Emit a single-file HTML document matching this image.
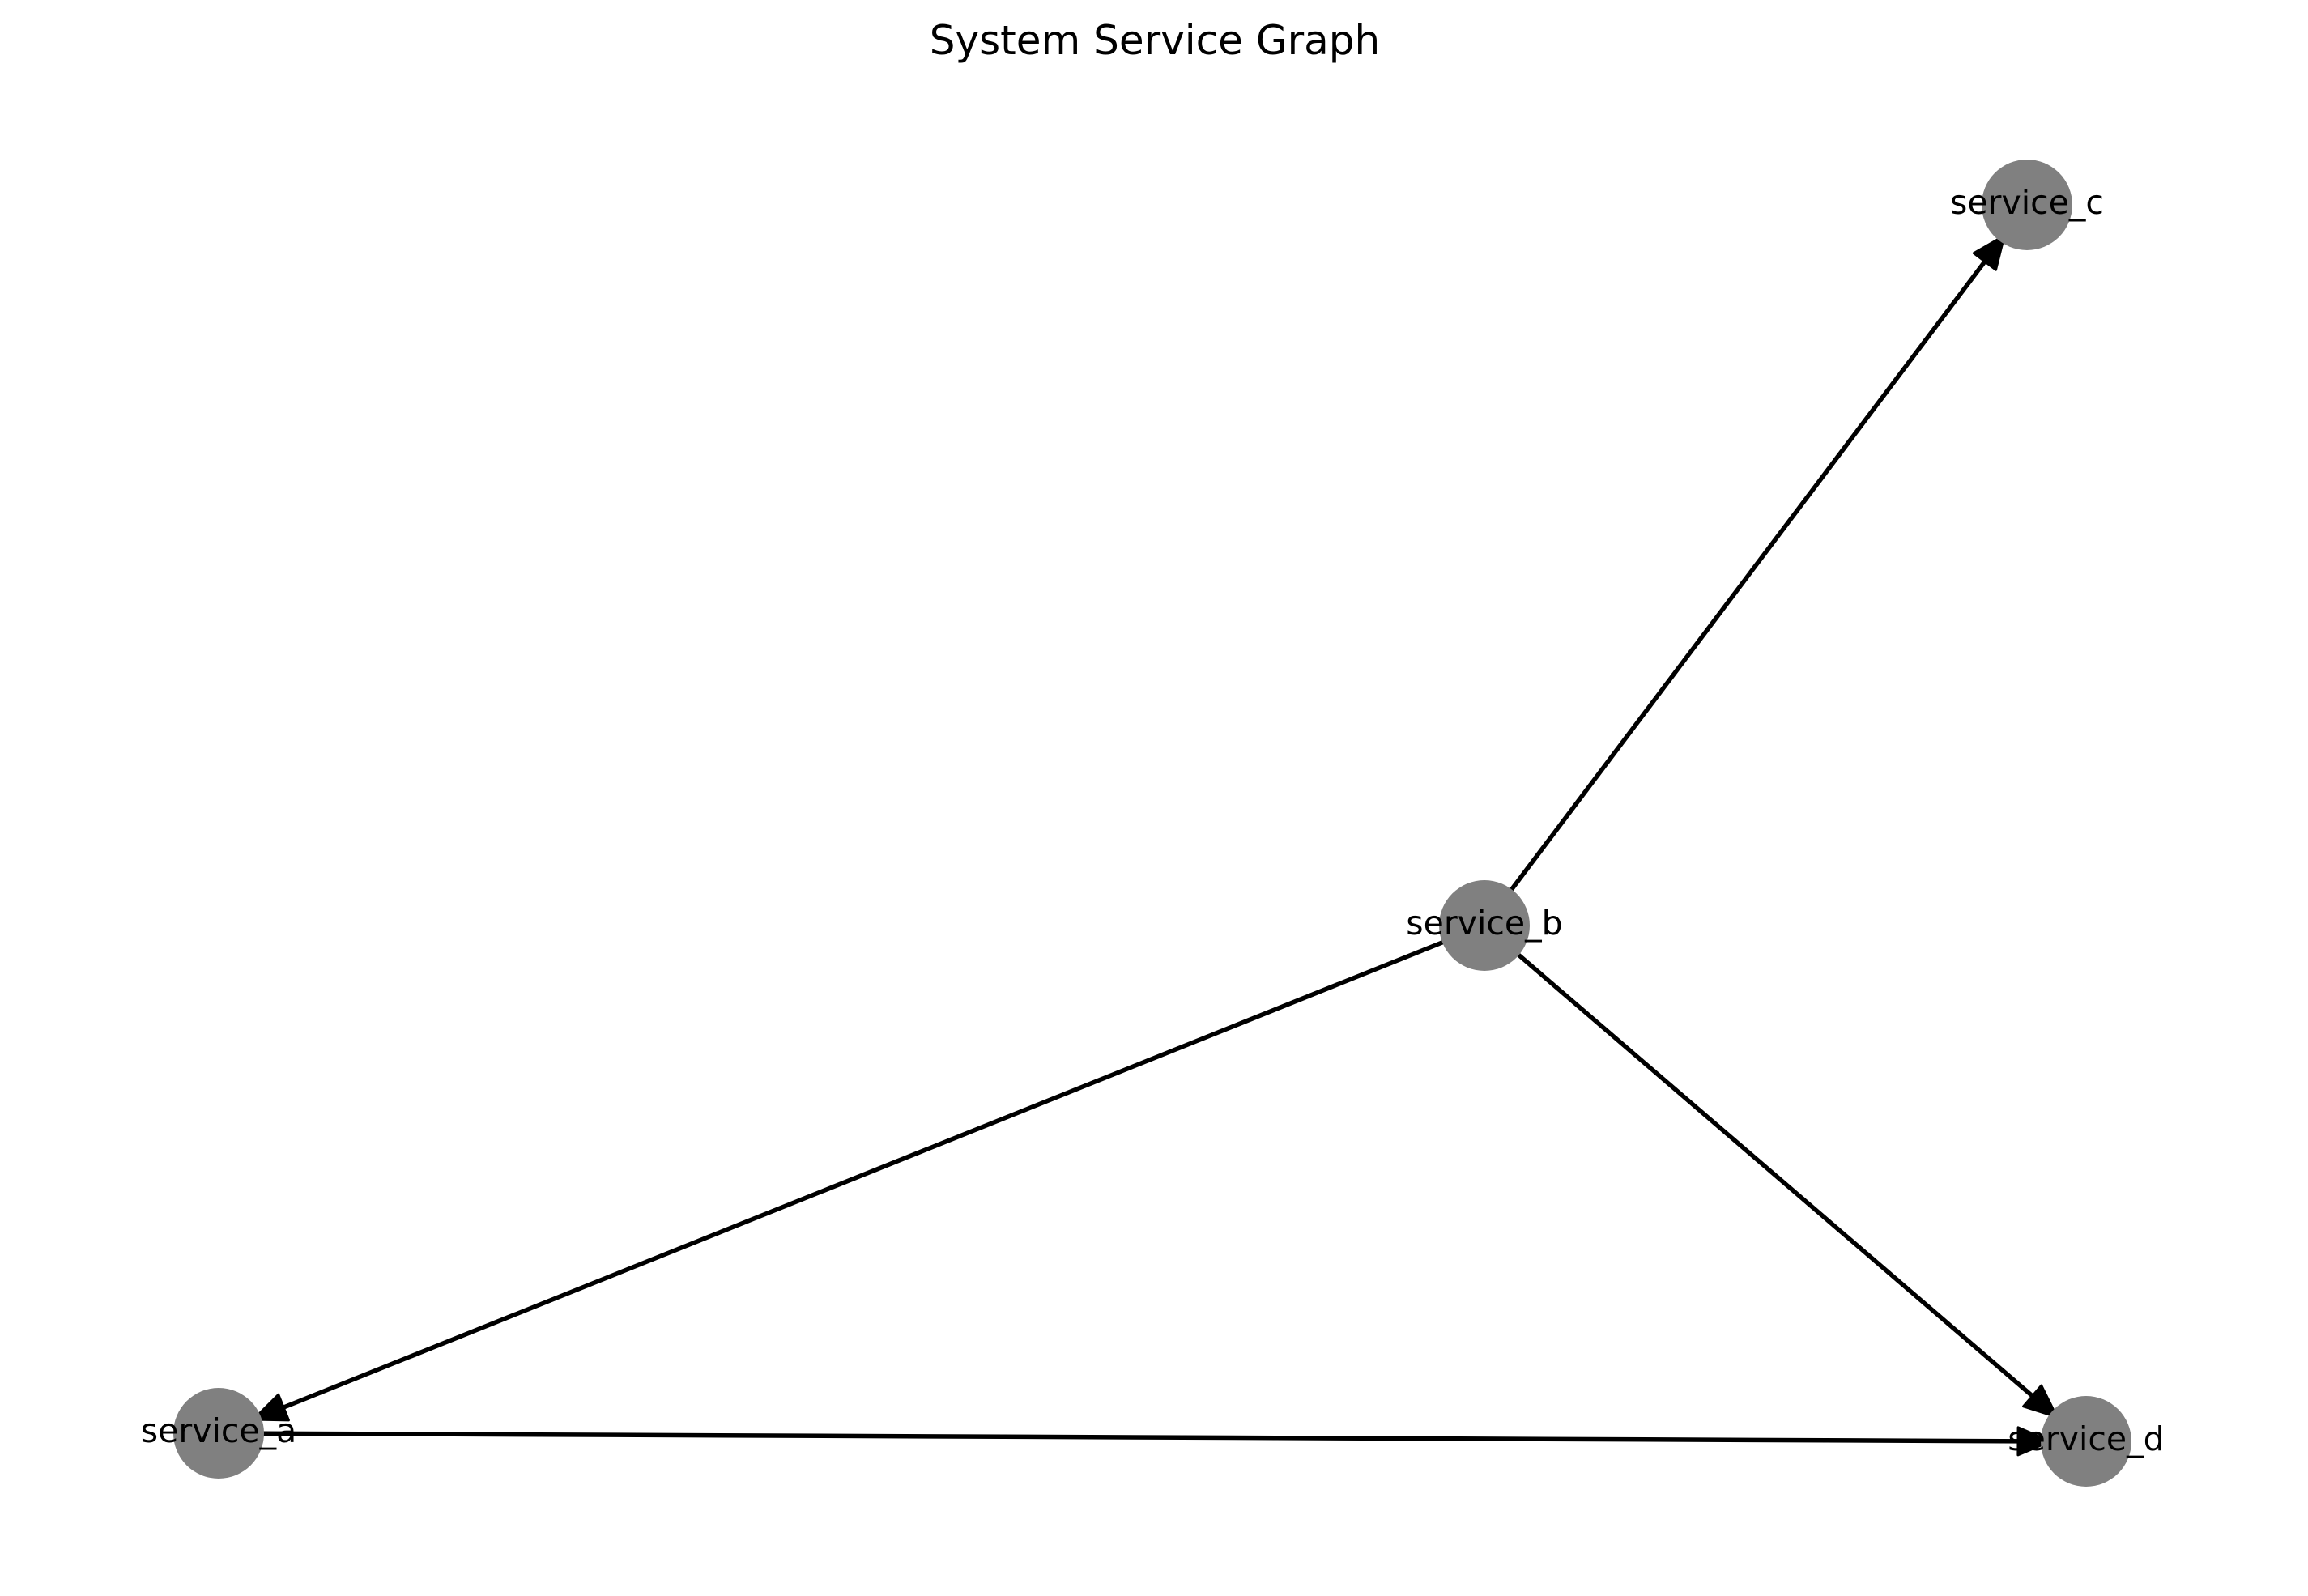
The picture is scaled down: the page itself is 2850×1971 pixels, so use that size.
<!DOCTYPE html>
<html><head><meta charset="utf-8"><style>html,body{margin:0;padding:0;background:#fff}svg{display:block}</style></head>
<body>
<svg width="2850" height="1971" viewBox="0 0 2850 1971" xmlns="http://www.w3.org/2000/svg">
<defs>
<marker id="ar" markerUnits="userSpaceOnUse" markerWidth="50" markerHeight="50" viewBox="-44 -25 50 50" refX="0" refY="0" orient="auto">
<path d="M0,0 L-40,-17 L-40,17 Z" fill="#000" stroke="#000" stroke-width="3" stroke-linejoin="round"/>
</marker>
</defs>
<text x="1426" y="67" font-family="DejaVu Sans, Liberation Sans, sans-serif" font-size="50" text-anchor="middle">System Service Graph</text>
<g stroke="#000" stroke-width="5.5" fill="none">
<line x1="1833" y1="1143" x2="2475" y2="291" marker-end="url(#ar)"/>
<line x1="1833" y1="1143" x2="313" y2="1753" marker-end="url(#ar)"/>
<line x1="1833" y1="1143" x2="2540" y2="1750" marker-end="url(#ar)"/>
<line x1="270" y1="1770" x2="2532" y2="1780" marker-end="url(#ar)"/>
</g>
<g fill="#808080">
<circle cx="270" cy="1770" r="56"/>
<circle cx="1833" cy="1143" r="56"/>
<circle cx="2503" cy="253" r="56"/>
<circle cx="2576" cy="1780" r="56"/>
</g>
<g font-family="DejaVu Sans, Liberation Sans, sans-serif" font-size="41" text-anchor="middle" fill="#000">
<text x="270" y="1781">service_a</text>
<text x="1833" y="1154">service_b</text>
<text x="2503" y="264">service_c</text>
<text x="2576" y="1791">service_d</text>
</g>
</svg>
</body></html>
